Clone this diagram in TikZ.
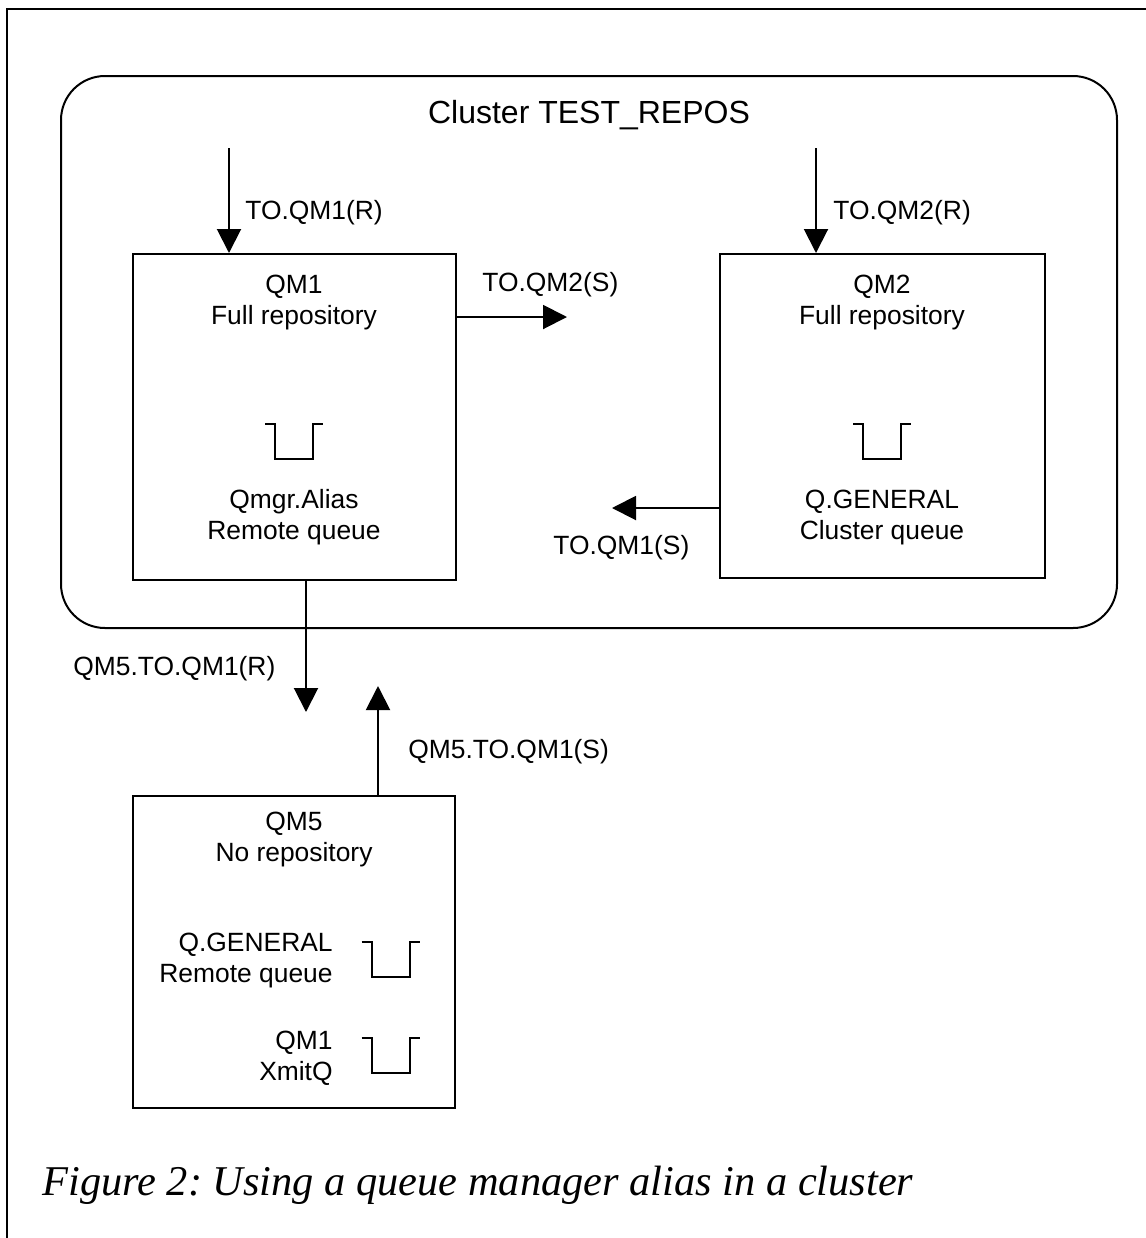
\documentclass[tikz,border=0pt]{standalone}
\usepackage{fontspec}
\setmainfont{Liberation Sans}
\newfontfamily\capfont{Liberation Serif}
\usetikzlibrary{arrows.meta}
\frenchspacing
\tikzset{
  box/.style={draw, line width=1pt, minimum width=#1, inner sep=0pt},
  lbl/.style={font=\fontsize{13.2}{15.5}\selectfont, inner sep=0pt, align=center},
  arr/.style={line width=1pt, -{Triangle[width=12pt,length=12pt]}},
  queue/.pic={\draw[line width=1pt] (-29,0) -- (-19,0) -- (-19,35) -- (19,35) -- (19,0) -- (29,0);}
}
\begin{document}
\begin{tikzpicture}[x=0.5pt,y=-0.5pt]
\useasboundingbox (0,0) rectangle (1146,1238);
% outer frame
\coordinate (fl) at (7,1238);
\coordinate (fc) at (7,9);
\coordinate (fr) at (1146,9);
\draw[line width=0.6pt] (fl) -- (fc) -- (fr);
% cluster
\node[draw, line width=1pt, rounded corners=22pt, minimum width=528pt, minimum height=276pt, inner sep=0pt] (cluster) at (589,352) {};
\node[font=\fontsize{16}{19}\selectfont, inner sep=0pt] (title) at (589,115) {Cluster TEST\_REPOS};
% boxes
\node[box=161.5pt, minimum height=163pt] (qm1) at (294.5,417) {};
\node[box=162.5pt, minimum height=162pt] (qm2) at (882.5,416) {};
\node[box=161pt, minimum height=156pt] (qm5) at (294,952) {};
% texts in boxes
\node[lbl] (qm1t) at (294,302.5) {QM1\\Full repository};
\node[lbl] (qm1b) at (294,517.5) {Qmgr.Alias\\Remote queue};
\node[lbl] (qm2t) at (882,302.5) {QM2\\Full repository};
\node[lbl] (qm2b) at (882,517.5) {Q.GENERAL\\Cluster queue};
\node[lbl] (qm5t) at (294,840) {QM5\\No repository};
\node[lbl, anchor=east, align=right] (qm5a) at (333,961) {Q.GENERAL\\Remote queue};
\node[lbl, anchor=east, align=right] (qm5b) at (333,1058) {QM1\\XmitQ};
% queues
\pic at (294,424) {queue};
\pic at (882,424) {queue};
\pic at (390.5,942) {queue};
\pic at (390.5,1038) {queue};
% arrows
\coordinate (s1) at (229,148);
\draw[arr] (s1) -- (s1 |- qm1.north);
\coordinate (s2) at (816,148);
\draw[arr] (s2) -- (s2 |- qm2.north);
\coordinate (e12) at (567,317);
\draw[arr] (qm1.east |- e12) -- (e12);
\coordinate (e21) at (612,508);
\draw[arr] (qm2.west |- e21) -- (e21);
\coordinate (e15) at (306,712);
\draw[arr] (e15 |- qm1.south) -- (e15);
\coordinate (e51) at (378,686);
\draw[arr] (e51 |- qm5.north) -- (e51);
% labels
\node[lbl, anchor=west] (l1) at (245,213) {TO.QM1(R)};
\node[lbl, anchor=west] (l2) at (833,213) {TO.QM2(R)};
\node[lbl, anchor=west] (l3) at (482,285) {TO.QM2(S)};
\node[lbl, anchor=west] (l4) at (553,548) {TO.QM1(S)};
\node[lbl, anchor=west] (l5) at (73,669) {QM5.TO.QM1(R)};
\node[lbl, anchor=west] (l6) at (408,752) {QM5.TO.QM1(S)};
% caption
\node[font=\capfont\itshape\fontsize{21.2}{25}\selectfont, anchor=base west, inner sep=0pt] (cap) at (42,1195) {Figure 2: Using a queue manager alias in a cluster};
\end{tikzpicture}
\end{document}
